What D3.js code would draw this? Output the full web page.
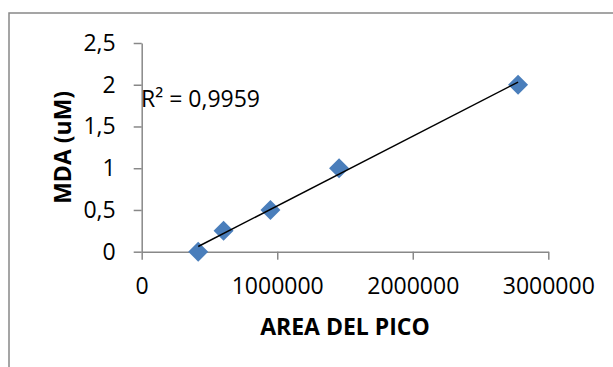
<!DOCTYPE html>
<html>
<head>
<meta charset="utf-8">
<script src="https://cdn.jsdelivr.net/npm/d3@7"></script>
<style>
    body { margin: 0; background: #fff; }
    .chart text { font-family: 'Open Sans', sans-serif; fill: #000; }
</style>
</head>
<body>
<div id="chart"></div>
<script>
// peak area vs MDA concentration
const areas = [417000, 604000, 950000, 1456000, 2777000];
const mda = [0, 0.25, 0.5, 1, 2];
const xTicks = [0, 1000000, 2000000, 3000000];
const xTickLabels = ['0', '1000000', '2000000', '3000000'];
const yTicks = [0, 0.5, 1, 1.5, 2, 2.5];
const yTickLabels = ['0', '0,5', '1', '1,5', '2', '2,5'];
const r2Label = 'R² = 0,9959';

class ScatterChart {
    constructor(target, width = 613, height = 367) {
        this.target = target;
        this.width = width;
        this.height = height;
    }

    initialize() {
        this.svg = d3.select(this.target)
            .append('svg')
            .attr('width', this.width)
            .attr('height', this.height)
            .attr('class', 'chart');

        // chart area border (runs off the right and bottom)
        this.svg.append('rect')
            .attr('x', 9)
            .attr('y', 13)
            .attr('width', 700)
            .attr('height', 500)
            .style('fill', '#fff')
            .style('stroke', '#888')
            .style('stroke-width', 1.5);

        this.draw();
    }

    draw() {
        const x = d3.scaleLinear()
            .domain([0, 3000000])
            .range([141.7, 548.3]);
        const y = d3.scaleLinear()
            .domain([0, 2.5])
            .range([251.7, 43]);

        const xAxis = d3.axisBottom(x)
            .tickValues(xTicks)
            .tickFormat((d, i) => xTickLabels[i])
            .tickSize(8)
            .tickSizeOuter(0)
            .tickPadding(18);
        const yAxis = d3.axisLeft(y)
            .tickValues(yTicks)
            .tickFormat((d, i) => yTickLabels[i])
            .tickSize(8)
            .tickSizeOuter(0)
            .tickPadding(18);

        const gx = this.svg.append('g')
            .attr('transform', `translate(0, ${y(0)})`)
            .call(xAxis);
        const gy = this.svg.append('g')
            .attr('transform', `translate(${x(0)}, 0)`)
            .call(yAxis);

        [gx, gy].forEach(g => {
            g.selectAll('path, line')
                .style('stroke', '#888')
                .style('stroke-width', 1.5);
            g.selectAll('text')
                .style('font-family', "'Open Sans', sans-serif")
                .style('font-size', '23px')
                .style('fill', '#000');
        });

        // axis titles
        this.svg.append('text')
            .attr('x', (x.range()[0] + x.range()[1]) / 2)
            .attr('y', 335)
            .style('text-anchor', 'middle')
            .style('font-size', '23px')
            .style('font-weight', 'bold')
            .text('AREA DEL PICO');
        this.svg.append('text')
            .attr('transform', `translate(70.5, ${(y.range()[0] + y.range()[1]) / 2}) rotate(-90)`)
            .style('text-anchor', 'middle')
            .style('font-size', '23px')
            .style('font-weight', 'bold')
            .text('MDA (uM)');

        // least squares trendline
        const points = areas.map((a, i) => ({area: a, mda: mda[i]}));
        const mx = d3.mean(points, d => d.area);
        const my = d3.mean(points, d => d.mda);
        const slope = d3.sum(points, d => (d.area - mx) * (d.mda - my)) /
            d3.sum(points, d => (d.area - mx) * (d.area - my));
        const intercept = my - slope * mx;
        const ends = d3.extent(areas).map(a => ({area: a, mda: intercept + slope * a}));

        this.svg.selectAll('.dot')
            .data(points)
            .enter()
            .append('path')
            .attr('class', 'dot')
            .attr('d', d3.symbol().type(d3.symbolSquare).size(200))
            .attr('transform', d => `translate(${x(d.area)}, ${y(d.mda)}) rotate(45)`)
            .style('fill', '#4a7ebb');

        const line = d3.line()
            .x(d => x(d.area))
            .y(d => y(d.mda));
        this.svg.append('path')
            .attr('d', line(ends))
            .style('stroke', '#000')
            .style('stroke-width', 1.5)
            .style('fill', 'none');

        this.svg.append('text')
            .attr('x', 141)
            .attr('y', 107)
            .style('font-size', '23px')
            .text(r2Label);
    }
}

const chart = new ScatterChart('#chart');
chart.initialize();
</script>
</body>
</html>
